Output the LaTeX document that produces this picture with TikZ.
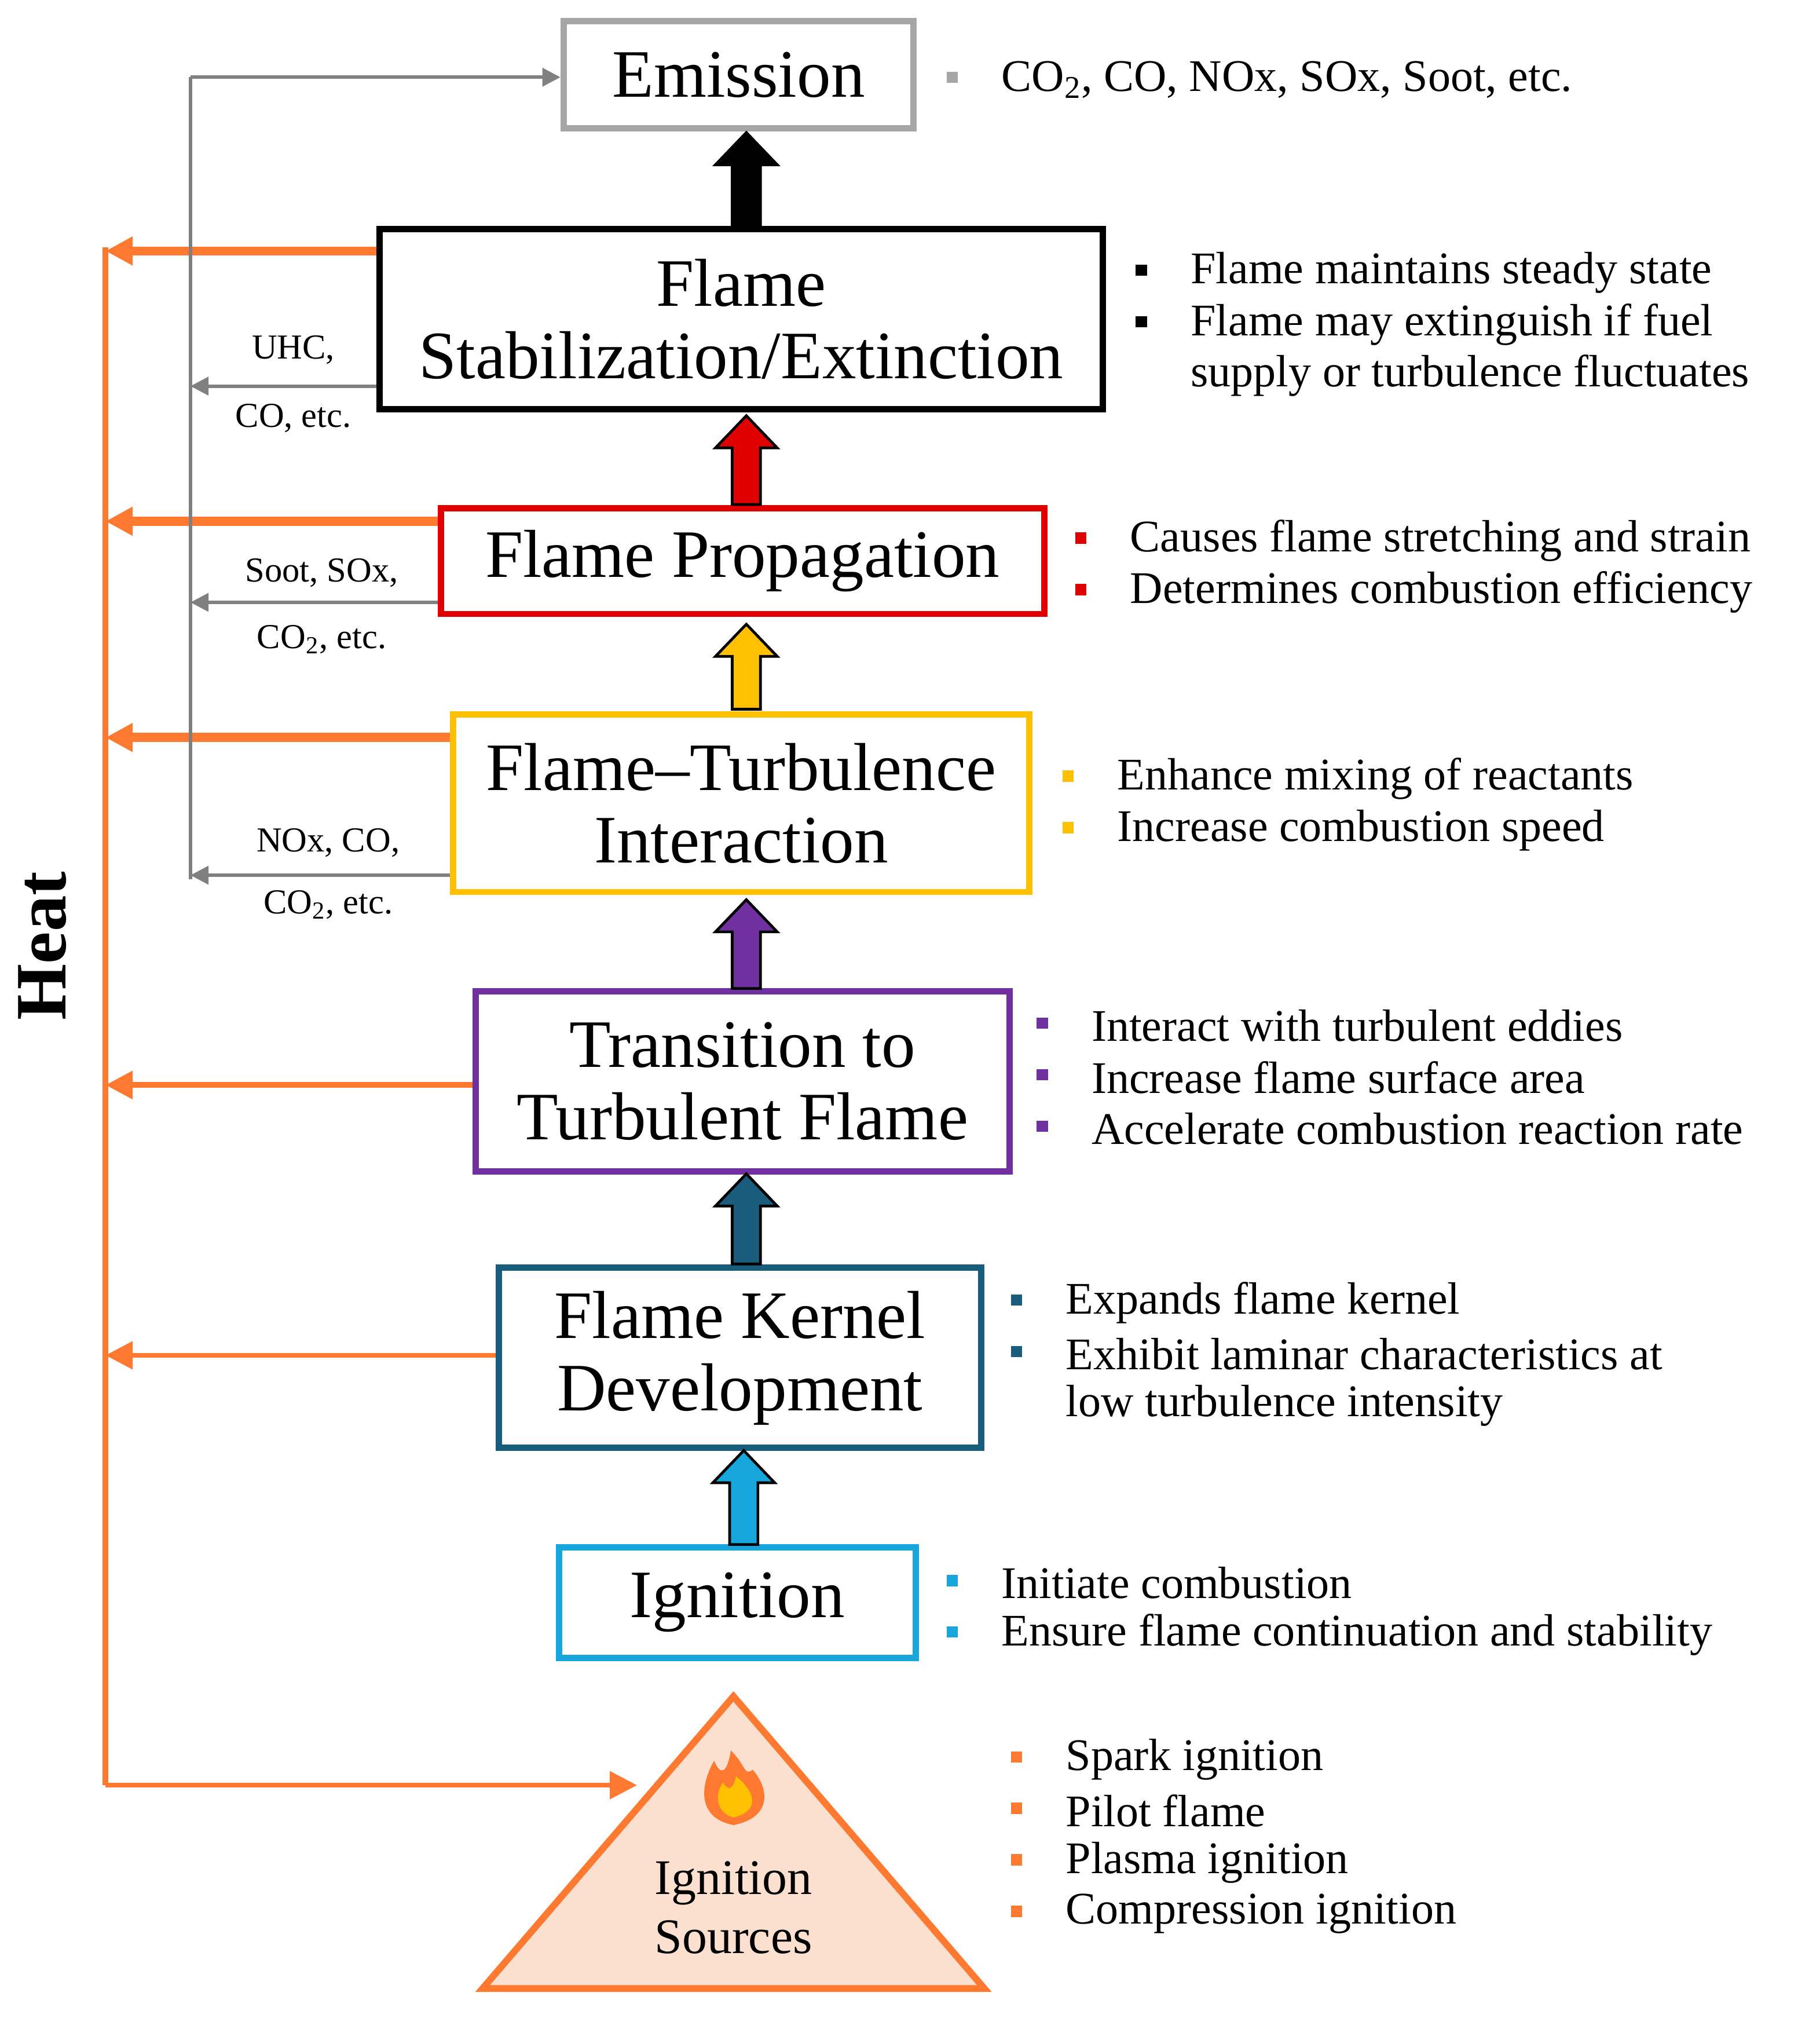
\documentclass[tikz,border=0pt]{standalone}
\usepackage{fontspec}
\setmainfont{Liberation Serif}
\usetikzlibrary{arrows.meta,calc}
\definecolor{cgray}{HTML}{A6A6A6}
\definecolor{cred}{HTML}{E00000}
\definecolor{cyel}{HTML}{FFC000}
\definecolor{cpur}{HTML}{7030A0}
\definecolor{cdblue}{HTML}{1A5C7C}
\definecolor{clblue}{HTML}{17A6DC}
\definecolor{corg}{HTML}{FF7A30}
\definecolor{cpeach}{HTML}{FBE0D0}
\tikzset{
 box/.style={draw,line width=2.8pt,fill=white,align=center,font=\fontsize{30}{32}\selectfont,inner sep=0pt},
 btxt/.style={anchor=west,font=\fontsize{20}{22}\selectfont,inner sep=0pt},
 sq/.style={minimum size=5pt,inner sep=0pt},
 heat/.style={draw=corg,-{Triangle[length=12pt,width=12pt]}},
 gas/.style={draw=gray,line width=1.5pt,-{Triangle[length=8pt,width=8pt]}},
 lab/.style={font=\fontsize{15.5}{18}\selectfont,inner sep=0pt}
}
\newcommand\blkarrow[4]{% x, ytop, ybottom, color
 \filldraw[fill=#4,draw=black,line width=1.2pt] (#1-11,#3)--(#1-11,#2+25)--(#1-24,#2+25)--(#1,#2)--(#1+24,#2+25)--(#1+11,#2+25)--(#1+11,#3)--cycle;}
\begin{document}
\begin{tikzpicture}[x=0.02cm,y=-0.02cm]
\useasboundingbox (0,0) rectangle (1414,1571);
% boxes
\node[box,draw=cgray,minimum width=272*0.02cm,minimum height=83*0.02cm] (em) at (574,58) {Emission};
\node[box,draw=black,minimum width=562*0.02cm,minimum height=140*0.02cm] (st) at (576,248) {Flame\\Stabilization/Extinction};
\node[box,draw=cred,minimum width=469*0.02cm,minimum height=82*0.02cm] (pr) at (577,436) {Flame Propagation};
\node[box,draw=cyel,minimum width=448*0.02cm,minimum height=138*0.02cm] (in) at (576,624) {Flame--Turbulence\\Interaction};
\node[box,draw=cpur,minimum width=415*0.02cm,minimum height=140*0.02cm] (tr) at (577,840) {Transition to\\Turbulent Flame};
\node[box,draw=cdblue,minimum width=375*0.02cm,minimum height=140*0.02cm] (ke) at (575,1055) {Flame Kernel\\Development};
\node[box,draw=clblue,minimum width=277*0.02cm,minimum height=86*0.02cm] (ig) at (573,1245) {Ignition};
% triangle
\filldraw[fill=cpeach,draw=corg,line width=3pt] (570,1318)--(765,1545)--(375,1545)--cycle;
\node[align=center,font=\fontsize{22}{26}\selectfont] (src) at (570,1482) {Ignition\\Sources};
% flame
\fill[corg] (570,1418) .. controls (540,1412) and (545,1385) .. (555,1368) .. controls (560,1380) and (565,1378) .. (568,1360) .. controls (580,1372) and (578,1380) .. (585,1375) .. controls (598,1390) and (600,1412) .. (570,1418);
\fill[cyel] (570,1412) .. controls (555,1408) and (556,1392) .. (562,1385) .. controls (566,1392) and (570,1390) .. (572,1380) .. controls (590,1395) and (588,1408) .. (570,1412);
% block arrows
\blkarrow{580}{103}{175}{black}
\blkarrow{580}{323}{392}{cred}
\blkarrow{580}{485}{551}{cyel}
\blkarrow{580}{699}{768}{cpur}
\blkarrow{580}{912}{982}{cdblue}
\blkarrow{578}{1127}{1200}{clblue}
% heat
\coordinate (h0) at (82,192); \coordinate (hb) at (82,1387);
\draw[corg,line width=2.5pt] (h0)--(hb);
\draw[heat,line width=4pt] (st.west|-0,195) -- (82,195);
\draw[heat,line width=4pt] (pr.west|-0,405) -- (82,405);
\draw[heat,line width=4pt] (in.west|-0,573) -- (82,573);
\draw[heat,line width=2.5pt] (tr.west|-0,843) -- (82,843);
\draw[heat,line width=2pt] (ke.west|-0,1053) -- (82,1053);
\draw[heat,line width=2pt] (hb) -- (495,1387);
\node[rotate=90,font=\bfseries\fontsize{32}{36}\selectfont] (heatlab) at (33,735) {Heat};
% gases
\draw[gray,line width=1.5pt] (148,683)--(148,60);
\draw[gas] (148,60)--(em.west|-0,60);
\draw[gas] (st.west|-0,300)--(148,300);
\draw[gas] (pr.west|-0,468)--(148,468);
\draw[gas] (in.west|-0,680)--(148,680);
\node[lab] (l1) at (228,272) {UHC,};
\node[lab] (l2) at (228,325) {CO, etc.};
\node[lab] (l3) at (250,445) {Soot, SOx,};
\node[lab] (l4) at (250,497) {CO\textsubscript{2}, etc.};
\node[lab] (l5) at (255,655) {NOx, CO,};
\node[lab] (l6) at (255,703) {CO\textsubscript{2}, etc.};
% bullets
\node[sq,fill=cgray] at (740,60) {}; \node[btxt] at (778,62) {CO\textsubscript{2}, CO, NOx, SOx, Soot, etc.};
\foreach \y/\t in {210/Flame maintains steady state,250/Flame may extinguish if fuel}{\node[sq,fill=black] at (887,\y) {}; \node[btxt] at (925,\y+2) {\t};}
\node[btxt] at (925,292) {supply or turbulence fluctuates};
\foreach \y/\t in {418/Causes flame stretching and strain,458/Determines combustion efficiency}{\node[sq,fill=cred] at (840,\y) {}; \node[btxt] at (878,\y+2) {\t};}
\foreach \y/\t in {603/Enhance mixing of reactants,643/Increase combustion speed}{\node[sq,fill=cyel] at (830,\y) {}; \node[btxt] at (868,\y+2) {\t};}
\foreach \y/\t in {795/Interact with turbulent eddies,835/Increase flame surface area,875/Accelerate combustion reaction rate}{\node[sq,fill=cpur] at (810,\y) {}; \node[btxt] at (848,\y+2) {\t};}
\foreach \y/\t in {1010/Expands flame kernel,1050/Exhibit laminar characteristics at}{\node[sq,fill=cdblue] at (790,\y) {}; \node[btxt] at (828,\y+2) {\t};}
\node[btxt] at (828,1092) {low turbulence intensity};
\foreach \y/\t in {1228/Initiate combustion,1268/Ensure flame continuation and stability}{\node[sq,fill=clblue] at (740,\y) {}; \node[btxt] at (778,\y+2) {\t};}
\foreach \y/\t in {1365/Spark ignition,1405/Pilot flame,1445/Plasma ignition,1485/Compression ignition}{\node[sq,fill=corg] at (790,\y) {}; \node[btxt] at (828,\y+2) {\t};}
\end{tikzpicture}
\end{document}
